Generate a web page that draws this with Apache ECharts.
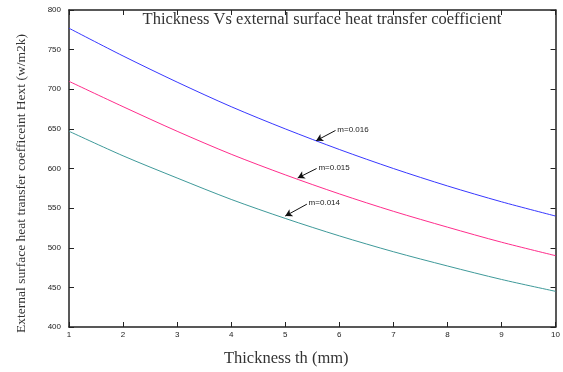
<!DOCTYPE html>
<html>
<head>
<meta charset="utf-8">
<script src="https://cdn.jsdelivr.net/npm/echarts@6/dist/echarts.min.js"></script>
<style>
  html, body { margin: 0; padding: 0; background: #fff; }
  #chart { width: 563px; height: 372px; }
</style>
</head>
<body>
<div id="chart"></div>
<script>
// Thickness (mm) on the x axis
const thickness = [1, 2, 3, 4, 5, 6, 7, 8, 9, 10];
// External surface heat transfer coefficient for each m value
const hextM016 = [777, 742, 709, 678, 650, 624, 600, 578, 558, 540];
const hextM015 = [710, 678, 647, 618, 592, 568, 546, 526, 507, 490];
const hextM014 = [647, 616, 588, 561, 537, 515, 495, 477, 460, 445];
const seriesNames = ['m=0.016', 'm=0.015', 'm=0.014'];
// Callout arrows: [tailX, tailY, headX, headY]
const callouts = [
  [5.93, 648, 5.57, 635],
  [5.58, 600, 5.23, 588],
  [5.40, 555, 5.00, 540]
];
const yTicks = [400, 450, 500, 550, 600, 650, 700, 750, 800];

const chart = echarts.init(document.getElementById('chart'));
const colors = ['#3838ff', '#ff2d8c', '#3f9a9a'];
const dataSets = [hextM016, hextM015, hextM014];

const tickLabelStyle = { fontFamily: 'Liberation Sans', fontSize: 8, color: '#222' };
const serif = 'Liberation Serif';

function pairs(vals) {
  return thickness.map((t, i) => [t, vals[i]]);
}

const series = dataSets.map((vals, i) => ({
  name: seriesNames[i],
  type: 'line',
  data: pairs(vals),
  smooth: 0.3,
  symbol: 'none',
  lineStyle: { color: colors[i], width: 1 },
  markLine: {
    silent: true,
    animation: false,
    symbolSize: [6, 7],
    lineStyle: { color: '#111', width: 1, type: 'solid' },
    label: {
      show: true,
      position: 'start',
      formatter: seriesNames[i],
      fontFamily: 'Liberation Sans',
      fontSize: 8,
      color: '#222',
      distance: 2
    },
    data: [[
      { coord: [callouts[i][0], callouts[i][1]], symbol: 'none' },
      { coord: [callouts[i][2], callouts[i][3]], symbol: 'arrow' }
    ]]
  }
}));

chart.setOption({
  animation: false,
  backgroundColor: '#fff',
  title: {
    text: 'Thickness Vs external surface heat transfer coefficient',
    left: 317,
    textAlign: 'center',
    top: 6,
    textStyle: { fontFamily: serif, fontSize: 16.5, fontWeight: 'normal', color: '#333' }
  },
  grid: { left: 69, right: 6, top: 10, bottom: 41 },
  xAxis: [{
    type: 'value',
    min: 1, max: 10, interval: 1,
    position: 'bottom',
    name: 'Thickness th (mm)',
    nameLocation: 'middle',
    nameGap: 23,
    nameTextStyle: { fontFamily: serif, fontSize: 16.5, color: '#333', padding: [0, 52, 0, 0] },
    axisLine: { lineStyle: { color: '#222', width: 1.5 } },
    axisTick: { inside: true, length: 5, lineStyle: { color: '#222' } },
    axisLabel: Object.assign({ margin: 4 }, tickLabelStyle),
    splitLine: { show: false }
  }, {
    type: 'value',
    min: 1, max: 10, interval: 1,
    position: 'top',
    axisLine: { lineStyle: { color: '#222', width: 1.5 } },
    axisTick: { inside: true, length: 5, lineStyle: { color: '#222' } },
    axisLabel: { show: false },
    splitLine: { show: false }
  }],
  yAxis: [{
    type: 'value',
    min: yTicks[0], max: yTicks[yTicks.length - 1], interval: 50,
    name: 'External surface heat transfer coefficeint Hext (w/m2k)',
    nameLocation: 'middle',
    nameGap: 41,
    nameTextStyle: { fontFamily: serif, fontSize: 13.5, color: '#333', padding: [0, 30, 0, 0] },
    axisLine: { lineStyle: { color: '#222', width: 1.5 } },
    axisTick: { inside: true, length: 5, lineStyle: { color: '#222' } },
    axisLabel: Object.assign({ margin: 8 }, tickLabelStyle),
    splitLine: { show: false }
  }, {
    type: 'value',
    position: 'right',
    min: yTicks[0], max: yTicks[yTicks.length - 1], interval: 50,
    axisLine: { show: true, lineStyle: { color: '#222', width: 1.5 } },
    axisTick: { show: true, inside: true, length: 5, lineStyle: { color: '#222' } },
    axisLabel: { show: false },
    splitLine: { show: false }
  }],
  series: series
});
</script>
</body>
</html>
